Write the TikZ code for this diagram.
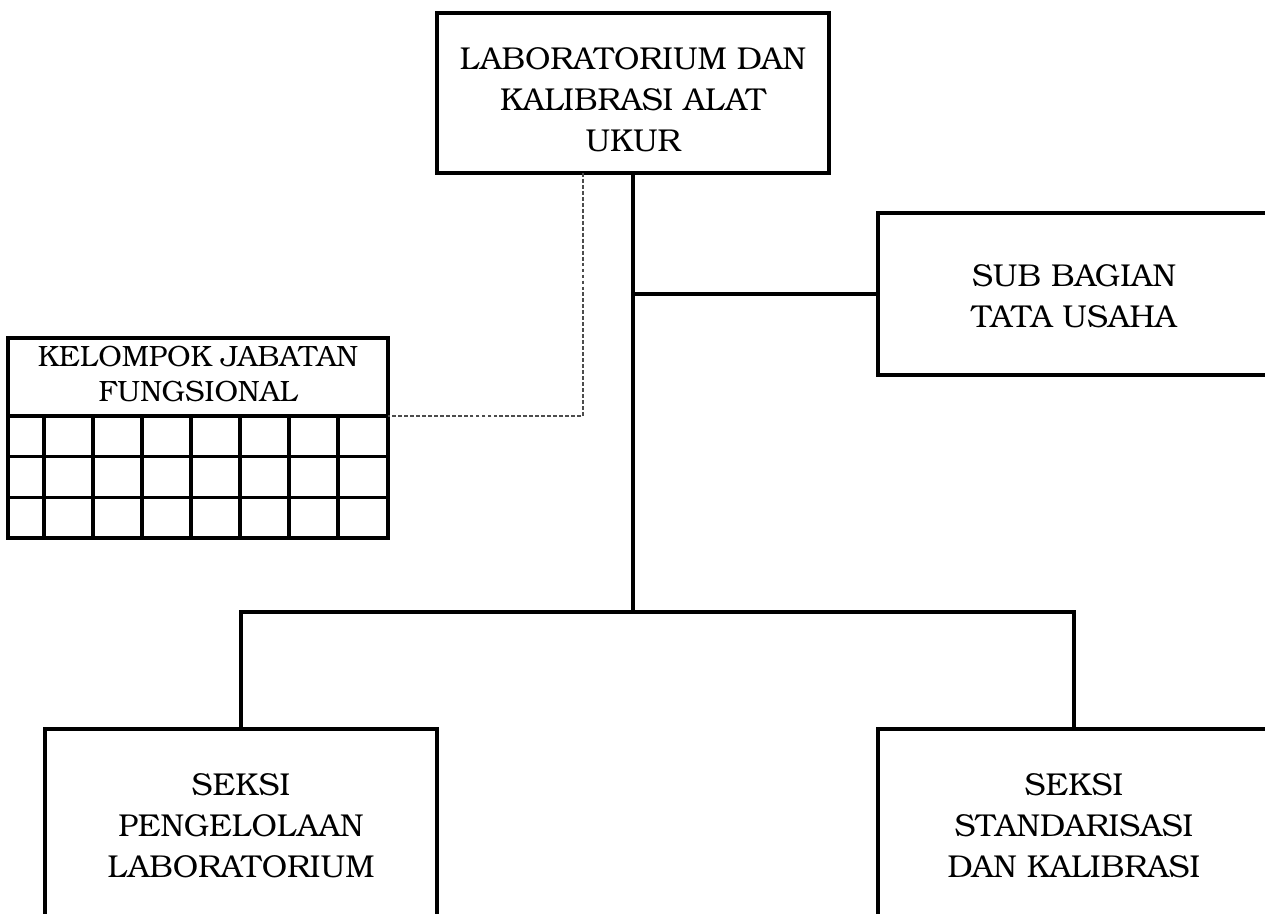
\documentclass[tikz,border=0pt]{standalone}
\usepackage{fontspec}
\setmainfont{TeX Gyre Bonum}
\usetikzlibrary{positioning,calc}
\tikzset{
  font=\fontsize{18}{23.3}\selectfont,
  unit/.style={
    draw,
    line width=1.8pt,
    align=center,
    minimum width=78.4mm,
    minimum height=32mm,
    inner sep=0pt,
    outer sep=0pt
  },
  seksibox/.style={
    unit,
    minimum height=38.8mm
  },
  kjfbox/.style={
    draw,
    line width=1.8pt,
    align=center,
    minimum width=76mm,
    minimum height=15.6mm,
    inner sep=0pt,
    outer sep=0pt,
    font=\fontsize{16.7}{19.9}\selectfont
  },
  gridline/.style={line width=1.8pt},
  link/.style={line width=1.8pt},
  dashedlink/.style={line width=0.6pt, gray!60!black, dash pattern=on 2.2pt off 1.2pt}
}

\begin{document}
\begin{tikzpicture}

\clip (0,0) rectangle (253mm,-182.8mm);

\node[unit, text height=66.6pt, text depth=0pt] (lab) at (126.6mm,-18.6mm) {LABORATORIUM DAN\\KALIBRASI ALAT\\UKUR};
\node[unit, minimum height=32.4mm, text height=38.2pt, text depth=0pt, below right=8mm and 9.8mm of lab.south east] (tu) {SUB BAGIAN\\TATA USAHA};

% Kelompok jabatan fungsional with its grid
\node[kjfbox, text depth=3.4pt, below left=33mm and 9.8mm of lab.south west] (kjf) {KELOMPOK JABATAN\\FUNGSIONAL};
\draw[gridline] (kjf.south west) rectangle ++(76mm,-24.4mm);
\foreach \r in {1,2}
  \draw[gridline] ([yshift=-\r*8.13mm]kjf.south west) -- ++(76mm,0);
\foreach \c in {0,...,6}
  \draw[gridline] ([xshift=7.2mm+\c*9.8mm]kjf.south west) -- ++(0,-24.4mm);

% Sections
\node[seksibox, below left=111.2mm and 0mm of lab.south west] (spl) {SEKSI\\PENGELOLAAN\\LABORATORIUM};
\node[seksibox, below right=111.2mm and 9.8mm of lab.south east] (ssk) {SEKSI\\STANDARISASI\\DAN KALIBRASI};

\coordinate (bus) at ($(lab.south)+(0,-87.8mm)$);

\draw[link] (lab.south) -- (bus);
\draw[link] (tu.west) -- (tu.west -| lab.south);
\draw[link] (spl.north) -- (spl.north |- bus) -- (ssk.north |- bus) -- (ssk.north);
\draw[dashedlink] ([xshift=-10mm]lab.south) |- (kjf.south east);

\end{tikzpicture}
\end{document}
